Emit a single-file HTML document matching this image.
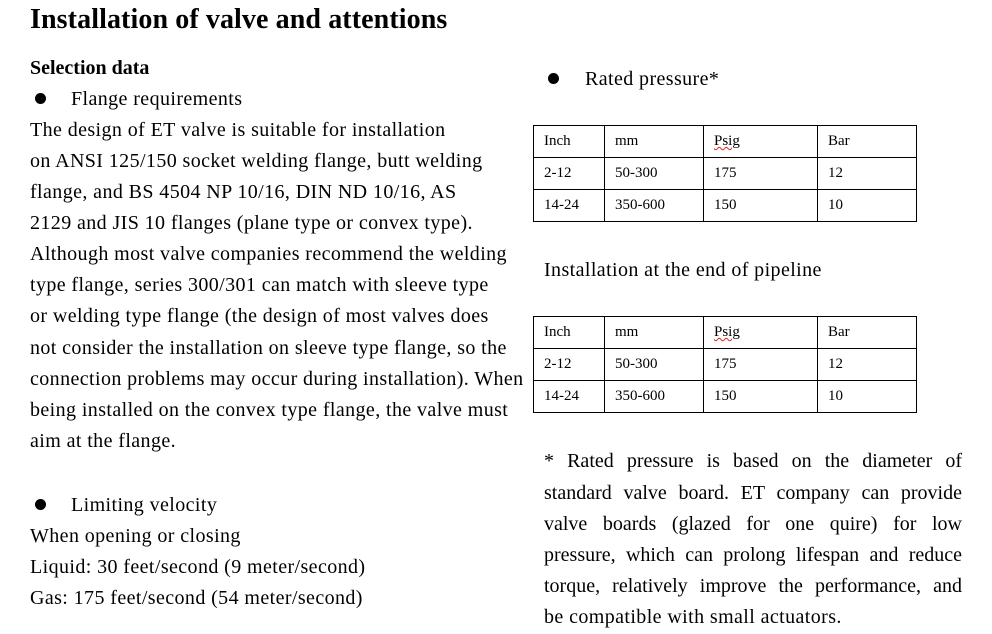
<!DOCTYPE html>
<html><head><meta charset="utf-8"><style>
body{margin:0;background:#fff;width:992px;height:634px;position:relative;overflow:hidden;font-family:"Liberation Serif",serif;color:#000}
.t{position:absolute;white-space:nowrap;font-size:20px;line-height:22px;letter-spacing:0.4px}
.h{font-weight:bold;letter-spacing:0}
table{position:absolute;border-collapse:collapse;font-size:15px;font-family:"Liberation Serif",serif}
td{border:1px solid #000;height:31px;padding:0 0 0 10px;vertical-align:middle}
.dot{position:absolute;width:11px;height:11px;border-radius:50%;background:#000}
.w{text-decoration:underline wavy #d22;text-decoration-thickness:1px}
</style></head><body>
<div class="t h" style="left:30px;top:5px;font-size:28px;line-height:30px;letter-spacing:0.1px">Installation of valve and attentions</div>
<div class="t h" style="left:30px;top:57px;font-size:20px">Selection data</div>
<div class="dot" style="left:35px;top:93px"></div>
<div class="t" style="left:71px;top:88px">Flange requirements</div>
<div class="t" style="left:30px;top:119px">The design of ET valve is suitable for installation</div>
<div class="t" style="left:30px;top:150px">on ANSI 125/150 socket welding flange, butt welding</div>
<div class="t" style="left:30px;top:181px">flange, and BS 4504 NP 10/16, DIN ND 10/16, AS</div>
<div class="t" style="left:30px;top:212px">2129 and JIS 10 flanges (plane type or convex type).</div>
<div class="t" style="left:30px;top:243px">Although most valve companies recommend the welding</div>
<div class="t" style="left:30px;top:274px">type flange, series 300/301 can match with sleeve type</div>
<div class="t" style="left:30px;top:305px">or welding type flange (the design of most valves does</div>
<div class="t" style="left:30px;top:337px">not consider the installation on sleeve type flange, so the</div>
<div class="t" style="left:30px;top:368px">connection problems may occur during installation). When</div>
<div class="t" style="left:30px;top:399px">being installed on the convex type flange, the valve must</div>
<div class="t" style="left:30px;top:430px">aim at the flange.</div>
<div class="dot" style="left:35px;top:499px"></div>
<div class="t" style="left:71px;top:494px">Limiting velocity</div>
<div class="t" style="left:30px;top:525px">When opening or closing</div>
<div class="t" style="left:30px;top:556px">Liquid: 30 feet/second (9 meter/second)</div>
<div class="t" style="left:30px;top:587px">Gas: 175 feet/second (54 meter/second)</div>

<div class="dot" style="left:548px;top:73px"></div>
<div class="t" style="left:585px;top:68px">Rated pressure*</div>
<table style="left:533px;top:125px;width:384px">
<tr><td style="width:60px">Inch</td><td style="width:88px">mm</td><td style="width:103px"><span class="w">Psig</span></td><td>Bar</td></tr>
<tr><td>2-12</td><td>50-300</td><td>175</td><td>12</td></tr>
<tr><td>14-24</td><td>350-600</td><td>150</td><td>10</td></tr>
</table>
<div class="t" style="left:544px;top:259px">Installation at the end of pipeline</div>
<table style="left:533px;top:316px;width:384px">
<tr><td style="width:60px">Inch</td><td style="width:88px">mm</td><td style="width:103px"><span class="w">Psig</span></td><td>Bar</td></tr>
<tr><td>2-12</td><td>50-300</td><td>175</td><td>12</td></tr>
<tr><td>14-24</td><td>350-600</td><td>150</td><td>10</td></tr>
</table>
<div class="t" style="left:544px;top:450px;width:418px;text-align:justify;text-align-last:justify;white-space:normal;letter-spacing:0">* Rated pressure is based on the diameter of</div>
<div class="t" style="left:544px;top:482px;width:418px;text-align:justify;text-align-last:justify;white-space:normal;letter-spacing:0">standard valve board. ET company can provide</div>
<div class="t" style="left:544px;top:513px;width:418px;text-align:justify;text-align-last:justify;white-space:normal;letter-spacing:0">valve boards (glazed for one quire) for low</div>
<div class="t" style="left:544px;top:544px;width:418px;text-align:justify;text-align-last:justify;white-space:normal;letter-spacing:0">pressure, which can prolong lifespan and reduce</div>
<div class="t" style="left:544px;top:575px;width:418px;text-align:justify;text-align-last:justify;white-space:normal;letter-spacing:0">torque, relatively improve the performance, and</div>
<div class="t" style="left:544px;top:606px">be compatible with small actuators.</div>
</body></html>
